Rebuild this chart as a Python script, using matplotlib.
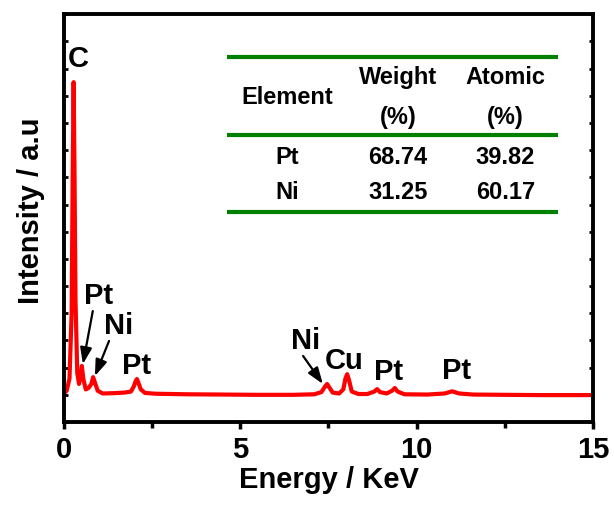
import matplotlib
matplotlib.use("Agg")
import matplotlib.pyplot as plt
from matplotlib.ticker import MultipleLocator

plt.rcParams["font.family"] = ["Liberation Sans", "DejaVu Sans"]
plt.rcParams["font.weight"] = "bold"

# EDS spectrum (energy in keV, intensity in a.u.)
energy = [0.00, 0.08, 0.16, 0.22, 0.25, 0.277, 0.30, 0.33, 0.38, 0.43,
          0.48, 0.51, 0.55, 0.62, 0.70, 0.78, 0.83, 0.88, 0.96, 1.10,
          1.40, 1.70, 1.90, 1.98, 2.04, 2.07, 2.11, 2.18, 2.30, 2.60,
          3.50, 4.50, 5.50, 6.50, 7.10, 7.30, 7.40, 7.46, 7.52, 7.62,
          7.80, 7.92, 7.98, 8.03, 8.08, 8.16, 8.35, 8.60, 8.80, 8.88,
          8.96, 9.15, 9.30, 9.38, 9.46, 9.65, 10.30, 10.80, 11.00, 11.20,
          11.60, 12.50, 13.50, 15.00]
intensity = [1.05, 1.15, 1.60, 4.00, 9.00, 12.50, 9.50, 4.50, 1.80, 1.40,
             1.70, 2.06, 1.60, 1.20, 1.25, 1.40, 1.65, 1.45, 1.15, 1.05,
             1.06, 1.08, 1.12, 1.30, 1.52, 1.58, 1.45, 1.20, 1.07, 1.04,
             1.02, 1.01, 1.00, 1.00, 1.02, 1.10, 1.30, 1.40, 1.28, 1.08,
             1.05, 1.20, 1.60, 1.76, 1.55, 1.12, 1.03, 1.03, 1.12, 1.21,
             1.10, 1.05, 1.15, 1.25, 1.12, 1.02, 1.01, 1.05, 1.13, 1.05,
             1.01, 1.00, 0.99, 0.99]

# peak labels
peak_names = ["C", "Pt", "Ni", "Pt", "Ni", "Cu", "Pt", "Pt"]
peak_text_x = [0.40, 0.97, 1.54, 2.07, 6.86, 7.94, 9.21, 11.14]
peak_text_y = [13.4, 4.67, 3.57, 2.10, 3.01, 2.28, 1.89, 1.90]

# arrows (start -> tip)
arrow_x0 = [0.82, 1.28, 6.78]
arrow_y0 = [4.08, 2.98, 2.43]
arrow_x1 = [0.54, 0.88, 7.34]
arrow_y1 = [2.13, 1.69, 1.40]

# inset table
table_header = [["Element"], ["Weight", "(%)"], ["Atomic", "(%)"]]
table_elements = ["Pt", "Ni"]
weight_pct = ["68.74", "31.25"]
atomic_pct = ["39.82", "60.17"]

fig = plt.figure(figsize=(6.14, 5.06), dpi=100)
ax = fig.add_axes([0.104, 0.164, 0.862, 0.806])

ax.plot(energy, intensity, color="#ff0000", linewidth=3.0,
        solid_joinstyle="round", solid_capstyle="round")

ax.set_xlim(0, 15)
ax.set_ylim(0, 15)
ax.xaxis.set_major_locator(MultipleLocator(5))
ax.xaxis.set_minor_locator(MultipleLocator(2.5))
ax.yaxis.set_major_locator(MultipleLocator(1))

for sp in ax.spines.values():
    sp.set_linewidth(2.8)

ax.tick_params(axis="x", which="major", direction="out", length=5, width=2.5,
               labelsize=21, pad=4)
ax.tick_params(axis="x", which="minor", direction="out", length=4, width=2.5)
ax.tick_params(axis="y", which="major", direction="in", length=3, width=2,
               left=True, right=True, labelleft=False)

ax.set_xlabel("Energy / KeV", fontsize=21, fontweight="bold", labelpad=2)
ax.set_ylabel("Intensity / a.u", fontsize=21, fontweight="bold")
ax.yaxis.set_label_coords(-0.036, 0.52)

for name, tx, ty in zip(peak_names, peak_text_x, peak_text_y):
    ax.text(tx, ty, name, fontsize=21, fontweight="bold",
            ha="center", va="center")

for x0, y0, x1, y1 in zip(arrow_x0, arrow_y0, arrow_x1, arrow_y1):
    ax.annotate("", xy=(x1, y1), xytext=(x0, y0),
                arrowprops=dict(arrowstyle="-|>,head_length=0.7,head_width=0.25",
                                color="black", lw=1.6, mutation_scale=14,
                                shrinkA=0, shrinkB=0))

# table rules
for ry in [0.895, 0.703, 0.515]:
    ax.plot([0.308, 0.934], [ry, ry], color="#008000", linewidth=3,
            transform=ax.transAxes, solid_capstyle="butt")

col_x = [0.422, 0.631, 0.834]
tfs = 17
ax.text(col_x[0], 0.799, table_header[0][0], transform=ax.transAxes,
        fontsize=tfs, ha="center", va="center")
for cx, hdr in zip(col_x[1:], table_header[1:]):
    ax.text(cx, 0.846, hdr[0], transform=ax.transAxes, fontsize=tfs,
            ha="center", va="center")
    ax.text(cx, 0.750, hdr[1], transform=ax.transAxes, fontsize=tfs,
            ha="center", va="center")

row_y = [0.652, 0.566]
for ry, el, w, a in zip(row_y, table_elements, weight_pct, atomic_pct):
    ax.text(col_x[0], ry, el, transform=ax.transAxes, fontsize=tfs,
            ha="center", va="center")
    ax.text(col_x[1], ry, w, transform=ax.transAxes, fontsize=tfs,
            ha="center", va="center")
    ax.text(col_x[2], ry, a, transform=ax.transAxes, fontsize=tfs,
            ha="center", va="center")

fig.savefig("out.png", dpi=100)
